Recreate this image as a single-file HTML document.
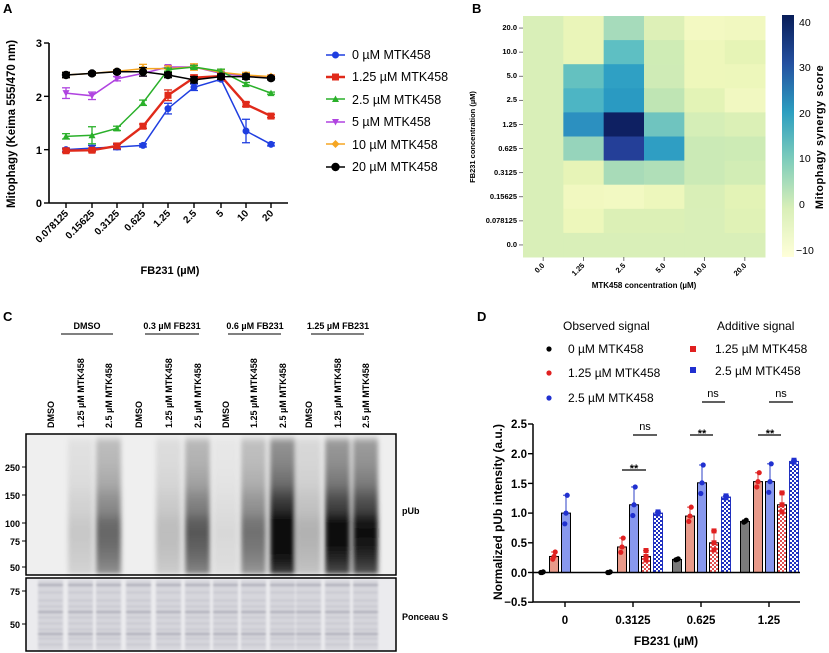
<!DOCTYPE html>
<html><head><meta charset="utf-8"><style>
body{margin:0;background:#fff;}
svg{display:block;font-family:"Liberation Sans",Arial,sans-serif;}
.b{font-weight:bold}
</style></head><body>
<svg id="s" width="829" height="653" viewBox="0 0 829 653" xmlns="http://www.w3.org/2000/svg">
<defs>
<filter id="bl" x="-20%" y="-5%" width="140%" height="110%"><feGaussianBlur stdDeviation="2.5"/></filter>
<filter id="bl2"><feGaussianBlur stdDeviation="1"/></filter>
<pattern id="pr" width="4" height="4" patternUnits="userSpaceOnUse"><rect width="4" height="4" fill="#fff"/><rect width="2" height="2" fill="#e05050"/><rect x="2" y="2" width="2" height="2" fill="#e05050"/></pattern>
<pattern id="pb" width="4" height="4" patternUnits="userSpaceOnUse"><rect width="4" height="4" fill="#fff"/><rect width="2" height="2" fill="#2030c0"/><rect x="2" y="2" width="2" height="2" fill="#2030c0"/></pattern>
<linearGradient id="cb" x1="0" y1="1" x2="0" y2="0">
<stop offset="0" stop-color="#ffffd9"/><stop offset="0.2" stop-color="#d9efb8"/><stop offset="0.4" stop-color="#7fcdbb"/><stop offset="0.6" stop-color="#2c9ec0"/><stop offset="0.8" stop-color="#2450a0"/><stop offset="1" stop-color="#081d58"/></linearGradient>
</defs>
<g id="A"></g><g id="Bh"></g><g id="C"></g><g id="D"></g>

<text x="3" y="13" class="b" font-size="13">A</text>
<text x="472" y="13" class="b" font-size="13">B</text>
<text x="3" y="321" class="b" font-size="13">C</text>
<text x="477" y="321" class="b" font-size="13">D</text>

<g font-size="11" class="b" text-anchor="end">
<text x="42" y="47">3</text><text x="42" y="101">2</text><text x="42" y="154">1</text><text x="42" y="207">0</text>
</g>
<text transform="translate(15,124) rotate(-90)" text-anchor="middle" class="b" font-size="11.5">Mitophagy  (Keima 555/470 nm)</text>
<g font-size="10" class="b" text-anchor="end">
<text transform="translate(69,214) rotate(-45)">0.078125</text>
<text transform="translate(95,214) rotate(-45)">0.15625</text>
<text transform="translate(120,214) rotate(-45)">0.3125</text>
<text transform="translate(146,214) rotate(-45)">0.625</text>
<text transform="translate(171,214) rotate(-45)">1.25</text>
<text transform="translate(197,214) rotate(-45)">2.5</text>
<text transform="translate(224,214) rotate(-45)">5</text>
<text transform="translate(249,214) rotate(-45)">10</text>
<text transform="translate(274,214) rotate(-45)">20</text>
</g>
<text x="170" y="274" text-anchor="middle" class="b" font-size="11">FB231 (µM)</text>
<g font-size="12.5">
<text x="352" y="59">0 µM MTK458</text>
<text x="352" y="81">1.25 µM MTK458</text>
<text x="352" y="104">2.5 µM MTK458</text>
<text x="352" y="126">5 µM MTK458</text>
<text x="352" y="149">10 µM MTK458</text>
<text x="352" y="171">20 µM MTK458</text>
</g>

<g font-size="7.5" class="b" text-anchor="end">
<text x="517" y="30">20.0</text><text x="517" y="54">10.0</text><text x="517" y="78">5.0</text><text x="517" y="102">2.5</text><text x="517" y="127">1.25</text><text x="517" y="151">0.625</text><text x="517" y="175">0.3125</text><text x="517" y="199">0.15625</text><text x="517" y="223">0.078125</text><text x="517" y="247">0.0</text>
</g>
<g font-size="7.5" class="b" text-anchor="end">
<text transform="translate(545,266) rotate(-45)">0.0</text>
<text transform="translate(585,266) rotate(-45)">1.25</text>
<text transform="translate(626,266) rotate(-45)">2.5</text>
<text transform="translate(666,266) rotate(-45)">5.0</text>
<text transform="translate(707,266) rotate(-45)">10.0</text>
<text transform="translate(747,266) rotate(-45)">20.0</text>
</g>
<text x="644" y="288" text-anchor="middle" class="b" font-size="8">MTK458 concentration (µM)</text>
<text transform="translate(475,137) rotate(-90)" text-anchor="middle" class="b" font-size="7.5">FB231 concentration (µM)</text>
<g font-size="10.5">
<text x="799" y="26">40</text><text x="799" y="71">30</text><text x="799" y="117">20</text><text x="799" y="162">10</text><text x="799" y="208">0</text><text x="796" y="254">−10</text>
</g>
<text transform="translate(823,137) rotate(-90)" text-anchor="middle" class="b" font-size="11" letter-spacing="0.5">Mitophagy  synergy  score</text>

<g font-size="9" class="b" text-anchor="middle">
<text x="87" y="329">DMSO</text><text x="172" y="329">0.3 µM FB231</text><text x="255" y="329">0.6 µM FB231</text><text x="338" y="329">1.25 µM FB231</text>
</g>
<g stroke="#000" stroke-width="1">
<line x1="61" y1="334" x2="113" y2="334"/><line x1="145" y1="334" x2="199" y2="334"/><line x1="228" y1="334" x2="281" y2="334"/><line x1="311" y1="334" x2="364" y2="334"/>
</g>
<g font-size="9" class="b">
<text transform="translate(54,428) rotate(-90)">DMSO</text>
<text transform="translate(84,428) rotate(-90)">1.25 µM MTK458</text>
<text transform="translate(112,428) rotate(-90)">2.5 µM MTK458</text>
<text transform="translate(142,428) rotate(-90)">DMSO</text>
<text transform="translate(172,428) rotate(-90)">1.25 µM MTK458</text>
<text transform="translate(201,428) rotate(-90)">2.5 µM MTK458</text>
<text transform="translate(229,428) rotate(-90)">DMSO</text>
<text transform="translate(257,428) rotate(-90)">1.25 µM MTK458</text>
<text transform="translate(286,428) rotate(-90)">2.5 µM MTK458</text>
<text transform="translate(312,428) rotate(-90)">DMSO</text>
<text transform="translate(341,428) rotate(-90)">1.25 µM MTK458</text>
<text transform="translate(369,428) rotate(-90)">2.5 µM MTK458</text>
</g>
<g font-size="9" class="b" text-anchor="end">
<text x="20" y="471">250</text><text x="20" y="499">150</text><text x="20" y="527">100</text><text x="20" y="545">75</text><text x="20" y="571">50</text>
<text x="20" y="595">75</text><text x="20" y="628">50</text>
</g>
<text x="402" y="514" class="b" font-size="9">pUb</text>
<text x="402" y="620" class="b" font-size="9">Ponceau S</text>

<text x="563" y="330" font-size="12">Observed signal</text>
<text x="717" y="330" font-size="12">Additive signal</text>
<g font-size="12">
<text x="568" y="353">0 µM MTK458</text>
<text x="568" y="377">1.25 µM MTK458</text>
<text x="568" y="402">2.5 µM MTK458</text>
<text x="715" y="353">1.25 µM MTK458</text>
<text x="715" y="375">2.5 µM MTK458</text>
</g>
<g font-size="11.5" class="b" text-anchor="end">
<text x="527" y="428">2.5</text><text x="527" y="458">2.0</text><text x="527" y="488">1.5</text><text x="527" y="517">1.0</text><text x="527" y="547">0.5</text><text x="527" y="577">0.0</text><text x="527" y="606">−0.5</text>
</g>
<text transform="translate(502,512) rotate(-90)" text-anchor="middle" class="b" font-size="12">Normalized pUb intensity (a.u.)</text>
<g font-size="11.5" class="b" text-anchor="middle">
<text x="565" y="624">0</text><text x="633" y="624">0.3125</text><text x="701" y="624">0.625</text><text x="769" y="624">1.25</text>
</g>
<text x="666" y="645" text-anchor="middle" class="b" font-size="12">FB231 (µM)</text>
<g font-size="11" text-anchor="middle">
<text x="645" y="430">ns</text><text x="713" y="397">ns</text><text x="781" y="397">ns</text>
<text x="634" y="472" class="b">**</text><text x="702" y="437" class="b">**</text><text x="770" y="437" class="b">**</text>
</g>
<g stroke="#000" stroke-width="1.2">
<line x1="633" y1="435" x2="657" y2="435"/><line x1="702" y1="402" x2="725" y2="402"/><line x1="769" y1="402" x2="793" y2="402"/>
<line x1="622" y1="470" x2="646" y2="470"/><line x1="690" y1="435" x2="713" y2="435"/><line x1="758" y1="435" x2="781" y2="435"/>
</g>
</svg>
<script>
var NS="http://www.w3.org/2000/svg";
function el(p,t,a){var e=document.createElementNS(NS,t);for(var k in a)e.setAttribute(k,a[k]);p.appendChild(e);return e;}
var A=document.getElementById('A');
el(A,'line',{x1:49,y1:43,x2:49,y2:203,stroke:'#000','stroke-width':1.6});
el(A,'line',{x1:49,y1:203,x2:288,y2:203,stroke:'#000','stroke-width':1.6});
[0,1,2,3].forEach(function(v){var y=203-53.33*v;el(A,'line',{x1:44,y1:y,x2:49,y2:y,stroke:'#000','stroke-width':1.4});});
var xs=[66,92,117,143,168,194,221,246,271];
xs.forEach(function(x){el(A,'line',{x1:x,y1:203,x2:x,y2:208,stroke:'#000','stroke-width':1.4});});
var ser=[
['#b044e0',[2.06,2.01,2.33,2.43,2.55,2.55,2.43,2.38,2.36],'v'],
['#f5a623',[2.4,2.43,2.47,2.52,2.52,2.55,2.45,2.4,2.37],'d'],
['#2ab02a',[1.25,1.27,1.4,1.88,2.5,2.55,2.47,2.23,2.06],'t'],
['#1f3ee0',[1.0,1.03,1.05,1.08,1.77,2.17,2.32,1.35,1.1],'c'],
['#e02a1a',[0.98,0.99,1.07,1.44,2.02,2.35,2.38,1.85,1.63],'s'],
['#000',[2.4,2.43,2.46,2.46,2.4,2.31,2.37,2.37,2.34],'C']];
var errs={'#1f3ee0':[0.03,0.05,0.05,0.03,0.1,0.06,0.03,0.22,0.03],'#2ab02a':[0.05,0.16,0.04,0.05,0.03,0.03,0.04,0.03,0.02],'#b044e0':[0.1,0.07,0.04,0.05,0.03,0.03,0.03,0.03,0.02],'#e02a1a':[0.03,0.03,0.05,0.04,0.1,0.05,0.03,0.04,0.03]};
function mk(g,sh,x,y,c){
 if(sh=='c'||sh=='C')el(g,'circle',{cx:x,cy:y,r:sh=='C'?4.2:3.5,fill:c});
 else if(sh=='s')el(g,'rect',{x:x-3.5,y:y-3.5,width:7,height:7,fill:c});
 else if(sh=='t')el(g,'polygon',{points:(x-3.5)+','+(y+3)+' '+(x+3.5)+','+(y+3)+' '+x+','+(y-3.5),fill:c});
 else if(sh=='v')el(g,'polygon',{points:(x-3.5)+','+(y-3)+' '+(x+3.5)+','+(y-3)+' '+x+','+(y+3.5),fill:c});
 else if(sh=='d')el(g,'polygon',{points:x+','+(y-4)+' '+(x+4)+','+y+' '+x+','+(y+4)+' '+(x-4)+','+y,fill:c});
}
ser.forEach(function(s){
 var c=s[0],pts=s[1].map(function(v,i){return xs[i]+','+(203-53.33*v);}).join(' ');
 var e=errs[c]||[0.05,0.03,0.03,0.08,0.05,0.06,0.05,0.05,0.03];
 s[1].forEach(function(v,i){var y=203-53.33*v,d=e[i]*53.33;
  el(A,'line',{x1:xs[i],y1:y-d,x2:xs[i],y2:y+d,stroke:c,'stroke-width':1.3});
  el(A,'line',{x1:xs[i]-4,y1:y-d,x2:xs[i]+4,y2:y-d,stroke:c,'stroke-width':1.3});
  el(A,'line',{x1:xs[i]-4,y1:y+d,x2:xs[i]+4,y2:y+d,stroke:c,'stroke-width':1.3});});
 el(A,'polyline',{points:pts,fill:'none',stroke:c,'stroke-width':c=='#e02a1a'?2.4:1.5});
 s[1].forEach(function(v,i){mk(A,s[2],xs[i],203-53.33*v,c);});
});
var leg=[['#1f3ee0','c',55],['#e02a1a','s',77],['#2ab02a','t',99],['#b044e0','v',122],['#f5a623','d',144],['#000','C',167]];
leg.forEach(function(l){el(A,'line',{x1:326,y1:l[2],x2:345,y2:l[2],stroke:l[0],'stroke-width':l[0]=='#e02a1a'?2.4:1.6});mk(A,l[1],335.5,l[2],l[0]);});
var B=document.getElementById('Bh');
var H=[
['#d9efb8','#eaf5b9','#a6dbbb','#ddf0b7','#f3f9c2','#f1f8c0'],
['#d9efb8','#e9f5b8','#5ebfc3','#cfecb5','#eef7bb','#e6f4b6'],
['#d9efb8','#64c1c0','#2fa0c4','#cfebb6','#eef7bb','#edf7bb'],
['#d9efb8','#4db5c4','#2a9ac2','#bfe5b4','#e3f3b6','#f1f8c1'],
['#d9efb8','#2c90c0','#0e2062','#6fc4bf','#d5eeb7','#dbf0b6'],
['#d9efb8','#96d4bb','#243f98','#2f9ec3','#cbeab6','#cdebb5'],
['#d9efb8','#e7f4b7','#a8dbb8','#b0dfb8','#cbeab6','#d2edb5'],
['#d9efb8','#f1f8c0','#f2f9c2','#edf7bc','#d9efb7','#e3f3b6'],
['#d9efb8','#edf7bb','#dcf0b6','#dcf0b6','#d9efb8','#e0f2b6'],
['#d9efb8','#d9efb8','#d9efb8','#d9efb8','#d9efb8','#d9efb8']];
var cw=(765-523)/6,rh=(257-16)/10;
H.forEach(function(r,i){r.forEach(function(c,j){el(B,'rect',{x:523+j*cw,y:16+i*rh,width:cw+0.5,height:rh+0.5,fill:c});});});
for(var i=0;i<10;i++)el(B,'line',{x1:519,y1:16+(i+.5)*rh,x2:523,y2:16+(i+.5)*rh,stroke:'#555','stroke-width':0.8});
for(var j=0;j<6;j++)el(B,'line',{x1:523+(j+.5)*cw,y1:257,x2:523+(j+.5)*cw,y2:261,stroke:'#555','stroke-width':0.8});
el(B,'rect',{x:782,y:15,width:12,height:242,fill:'url(#cb)'});
var C=document.getElementById('C');
el(C,'rect',{x:26,y:434,width:370,height:141,fill:'#efefef'});
var lx=[50,80,108,138,168,197,225,253,282,308,337,365];
var dk=[0.02,0.2,0.62,0.03,0.25,0.68,0.12,0.58,0.95,0.3,0.88,0.85];
var g=el(C,'g',{filter:'url(#bl)'});
var defs=document.querySelector('defs');
lx.forEach(function(x,i){
 var d=dk[i];if(d<0.05)return;
 var id='lg'+i;var lg=el(defs,'linearGradient',{id:id,x1:0,y1:0,x2:0,y2:1});
 [[0,0.1],[0.05,0.4],[0.2,0.45],[0.35,0.55],[0.45,0.7],[0.55,0.8],[0.62,0.95],[0.7,1],[0.8,0.95],[0.9,0.85],[1,0.7]].forEach(function(s){
  var v=Math.min(1,d*s[1]*(d>0.8?1.15:1));var gv=Math.round(239-232*Math.pow(v,1.1));
  el(lg,'stop',{offset:s[0],'stop-color':'rgb('+gv+','+gv+','+gv+')'});});
 el(g,'rect',{x:x-12,y:436,width:25,height:138,fill:'url(#'+id+')'});
});
el(C,'rect',{x:26,y:434,width:370,height:141,fill:'none',stroke:'#000','stroke-width':1.5});
el(C,'rect',{x:26,y:578,width:370,height:73,fill:'#ebebee'});
var g2=el(C,'g',{filter:'url(#bl2)'});
lx.forEach(function(x,i){
 el(g2,'rect',{x:x-12,y:580,width:25,height:70,fill:'#d6d6dc'});
 [584,592,600,606,611,617,623,629,633,638,644].forEach(function(y,k){el(g2,'rect',{x:x-12,y:y,width:25,height:(k%4==0?2:1),fill:(k%4==0?'#a8a8b4':'#bcbcc6')});});
});
el(C,'rect',{x:26,y:578,width:370,height:73,fill:'none',stroke:'#000','stroke-width':1.5});
[467,495,523,541,567,591,624].forEach(function(y){el(C,'line',{x1:22,y1:y,x2:26,y2:y,stroke:'#000'});});
var D=document.getElementById('D');
function Y(v){return 572.5-59.4*v;}
var grp=[
 [[542,0,'b'],[554,0.27,'r'],[566,1.0,'u']],
 [[609,0,'b'],[622,0.43,'r'],[634,1.14,'u'],[646,0.27,'R'],[658,1.0,'U']],
 [[677,0.22,'b'],[690,0.95,'r'],[702,1.51,'u'],[714,0.5,'R'],[726,1.27,'U']],
 [[745,0.86,'b'],[758,1.53,'r'],[770,1.53,'u'],[782,1.14,'R'],[794,1.87,'U']]];
var eu={b:0.02,r:0.15,u:0.3,R:0.2,U:0.02};
var fill={b:'#7a7a7a',r:'#e89a8a',u:'#8898ee',R:'url(#pr)',U:'url(#pb)'};
var dc={b:'#000',r:'#e02020',u:'#2030d0',R:'#e02020',U:'#2030d0'};
var ec={b:'#000',r:'#e06060',u:'#5060d0',R:'#e06060',U:'#2030d0'};
grp.forEach(function(G){G.forEach(function(b){
 var x=b[0],v=b[1],t=b[2];
 if(v>0.02){el(D,'rect',{x:x-4.5,y:Y(v),width:9,height:Y(0)-Y(v),fill:fill[t],stroke:(t=='U'?'#2030c0':'#000'),'stroke-width':1});}
 if(v>0.05){var tv=v+eu[t]*(v>0.3?1:0.5);el(D,'line',{x1:x,y1:Y(v),x2:x,y2:Y(tv),stroke:ec[t],'stroke-width':1.2});
  el(D,'line',{x1:x-3,y1:Y(tv),x2:x+3,y2:Y(tv),stroke:ec[t],'stroke-width':1.2});}
 [-eu[t]*0.6,0,eu[t]].forEach(function(o,k){var yy=Y(Math.max(0,v+o*(v>0.3?1:0.5)));
  if(t=='R'||t=='U')el(D,'rect',{x:x-2.5,y:yy-2.5,width:5,height:5,fill:dc[t]});
  else el(D,'circle',{cx:x+(k-1)*1.2,cy:yy,r:2.6,fill:dc[t]});});
});});
el(D,'line',{x1:533,y1:424,x2:533,y2:602,stroke:'#000','stroke-width':1.5});
el(D,'line',{x1:533,y1:602,x2:800,y2:602,stroke:'#000','stroke-width':1.5});
el(D,'line',{x1:533,y1:Y(0),x2:800,y2:Y(0),stroke:'#000','stroke-width':1.5});
for(var k=0;k<7;k++){var yy=424+k*29.7;el(D,'line',{x1:528,y1:yy,x2:533,y2:yy,stroke:'#000','stroke-width':1.4});}
[565,633,701,769].forEach(function(x){el(D,'line',{x1:x,y1:602,x2:x,y2:607,stroke:'#000','stroke-width':1.4});});
el(D,'circle',{cx:549,cy:349,r:2.6,fill:'#000'});
el(D,'circle',{cx:549,cy:373,r:2.6,fill:'#e02020'});
el(D,'circle',{cx:549,cy:398,r:2.6,fill:'#2030d0'});
el(D,'rect',{x:690,y:346,width:6,height:6,fill:'#e02020'});
el(D,'rect',{x:690,y:367,width:6,height:6,fill:'#2030d0'});
</script>
</body></html>
